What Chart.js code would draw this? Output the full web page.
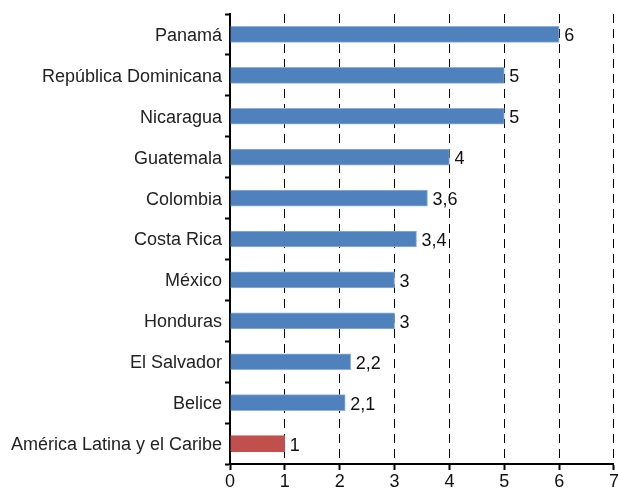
<!DOCTYPE html>
<html>
<head>
<meta charset="utf-8">
<script src="https://cdn.jsdelivr.net/npm/chart.js@4"></script>
<style>
  html, body { margin: 0; padding: 0; background: #fff; }
  #wrap { width: 620px; height: 488px; }
</style>
</head>
<body>
<div id="wrap"><canvas id="barChart"></canvas></div>
<script>
// === DATA ===
const countries = [
  "Panamá",
  "República Dominicana",
  "Nicaragua",
  "Guatemala",
  "Colombia",
  "Costa Rica",
  "México",
  "Honduras",
  "El Salvador",
  "Belice",
  "América Latina y el Caribe",
];
const values = [6, 5, 5, 4, 3.6, 3.4, 3, 3, 2.2, 2.1, 1];
const xTicks = [0, 1, 2, 3, 4, 5, 6, 7];

const blue = "#4f81bd";
const red = "#c0504d";
const font = { family: "'Liberation Sans', Arial, sans-serif", size: 18 };

// value labels next to each bar, comma as decimal mark
const valueLabels = {
  id: "valueLabels",
  afterDatasetsDraw(chart) {
    const { ctx } = chart;
    const meta = chart.getDatasetMeta(0);
    ctx.save();
    ctx.font = font.size + "px " + font.family;
    ctx.fillStyle = "#111";
    ctx.textBaseline = "middle";
    ctx.textAlign = "left";
    meta.data.forEach((bar, i) => {
      const txt = String(values[i]).replace(".", ",");
      ctx.fillText(txt, bar.x + 5, bar.y + 2);
    });
    ctx.restore();
  },
};

const ctx = document.getElementById("barChart").getContext("2d");
const barChart = new Chart(ctx, {
  type: "bar",
  data: {
    labels: countries,
    datasets: [
      {
        data: values,
        backgroundColor: countries.map((c, i) => (i === countries.length - 1 ? red : blue)),
        borderColor: countries.map((c, i) => (i === countries.length - 1 ? red : "#8fb0dc")),
        borderWidth: 1,
        borderSkipped: "left",
        barThickness: 16,
      },
    ],
  },
  options: {
    indexAxis: "y",
    responsive: true,
    maintainAspectRatio: false,
    animation: false,
    layout: { padding: { top: 14, right: 4, left: 0, bottom: 0 } },
    scales: {
      x: {
        min: 0,
        max: 7,
        afterBuildTicks: (scale) => {
          scale.ticks = xTicks.map((v) => ({ value: v }));
        },
        afterFit: (scale) => {
          scale.height = 24;
        },
        ticks: { color: "#111", font: font, padding: 1, maxRotation: 0 },
        grid: {
          color: (c) => (c.tick && c.tick.value === 0 ? "rgba(0,0,0,0)" : "#000"),
          lineWidth: 1,
          tickLength: 6,
          tickColor: "#000",
          tickWidth: 2,
        },
        border: { display: true, color: "#000", width: 2, dash: [9, 6] },
      },
      y: {
        afterFit: (scale) => {
          scale.width = 230;
        },
        ticks: { color: "#222", font: font, padding: 3, labelOffset: 1.5 },
        grid: {
          offset: true,
          drawOnChartArea: false,
          tickLength: 5,
          tickColor: "#000",
          tickWidth: 2,
        },
        border: { display: true, color: "#000", width: 2 },
      },
    },
    plugins: {
      legend: { display: false },
      tooltip: { enabled: false },
    },
  },
  plugins: [valueLabels],
});
</script>
</body>
</html>
